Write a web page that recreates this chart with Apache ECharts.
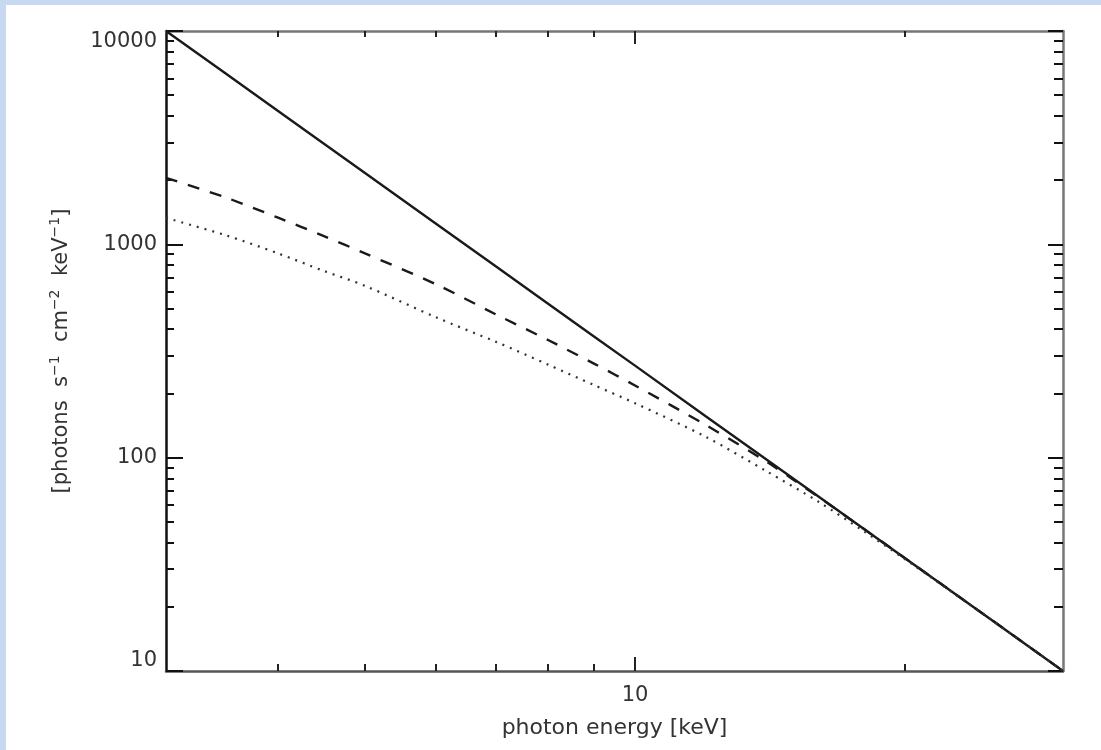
<!DOCTYPE html>
<html><head><meta charset="utf-8">
<script src="https://cdn.jsdelivr.net/npm/echarts@6/dist/echarts.min.js"></script>
<style>
html,body{margin:0;padding:0;background:#c6d9f1;overflow:hidden;}
#frame{position:absolute;left:6px;top:5px;right:0;bottom:0;background:#fff;}
#chart{position:absolute;left:0;top:0;width:1101px;height:750px;}
</style></head><body>
<div id="frame"></div>
<div id="chart"></div>
<script>
// photon energy [keV]
const energy     = [3, 3.5, 4, 4.5, 5, 6, 7, 8, 9, 10, 12, 14, 16, 18, 20, 25, 30];
// solid curve
const solidFlux  = [10000, 6297, 4219, 2963, 2160, 1250, 787, 527, 370, 270, 156, 98.4, 65.9, 46.3, 33.8, 17.3, 10];
// dashed curve
const dashedFlux = [2050, 1656, 1333, 1093, 907, 650, 469, 356, 276, 218, 142, 96, 65.6, 46.3, 33.8, 17.3, 10];
// dotted curve
const dottedFlux = [1330, 1102, 907, 750, 639, 455, 349, 273, 219, 180, 125, 86.6, 62.3, 45.1, 33.4, 17.3, 10];

const xMajorTicks = [10];
const xMinorTicks = [4, 5, 6, 7, 8, 9, 20];
const yMajorTicks = [10, 100, 1000, 10000];
const yMinorTicks = [20, 30, 40, 50, 60, 70, 80, 90, 200, 300, 400, 500, 600, 700, 800, 900, 2000, 3000, 4000, 5000, 6000, 7000, 8000, 9000];
const yMidLabels = [100, 1000];
const yTopLabel = [10000];
const yBottomLabel = [10];

const xName = 'photon energy [keV]';
const yName = '[photons  s{s|\u22121}  cm{s|\u22122}  keV{s|\u22121}]';

const FONT = 'DejaVu Sans';
const TXT = '#333';

function xAx(pos, ticks, len, showLine, showLabel, lineColor, extra) {
  return Object.assign({
    type: 'log', min: 3, max: 30, position: pos, gridIndex: 0,
    axisLine: { show: showLine, lineStyle: { color: lineColor, width: 2.5 } },
    axisTick: { show: true, inside: true, length: len, customValues: ticks, lineStyle: { color: '#222', width: 2 } },
    axisLabel: { show: showLabel, customValues: ticks, fontFamily: FONT, fontSize: 21, color: TXT, margin: 14,
      formatter: v => String(v) },
    splitLine: { show: false }, minorTick: { show: false }, minorSplitLine: { show: false }
  }, extra || {});
}
function yAx(pos, ticks, len, showLine, labels, lineColor, extra, vAlign) {
  return Object.assign({
    type: 'log', logBase: 10, min: 10, max: 10000, position: pos, gridIndex: 0,
    axisLine: { show: showLine, lineStyle: { color: lineColor, width: 2.5 } },
    axisTick: { show: ticks !== null, inside: true, length: len, customValues: ticks || [], lineStyle: { color: '#111', width: 2 } },
    axisLabel: { show: labels !== null, customValues: labels || [], fontFamily: FONT, fontSize: 21, color: TXT, margin: 9,
      verticalAlign: vAlign || 'middle', formatter: v => String(v) },
    splitLine: { show: false }, minorTick: { show: false }, minorSplitLine: { show: false }
  }, extra || {});
}

const chart = echarts.init(document.getElementById('chart'), null, { renderer: 'canvas' });
chart.setOption({
  backgroundColor: 'transparent',
  animation: false,
  grid: { left: 166, right: 38, top: 31, bottom: 79, containLabel: false, outerBoundsMode: 'none' },
  xAxis: [
    xAx('bottom', xMajorTicks, 14, true, true, '#555', {
      name: xName, nameLocation: 'middle', nameGap: 46,
      nameTextStyle: { fontFamily: FONT, fontSize: 22, color: TXT }
    }),
    xAx('bottom', xMinorTicks, 7, false, false, '#555'),
    xAx('top', xMajorTicks, 13, true, false, '#777'),
    xAx('top', xMinorTicks, 6, false, false, '#777')
  ],
  yAxis: [
    yAx('left', yMajorTicks, 17, true, yMidLabels, '#111', {
      name: yName, nameLocation: 'middle', nameGap: 90, nameRotate: 90,
      nameTextStyle: { fontFamily: FONT, fontSize: 21, color: TXT, lineHeight: 28,
        rich: { s: { fontFamily: FONT, fontSize: 14, color: TXT, verticalAlign: 'top', lineHeight: 28 } } }
    }),
    yAx('left', yMinorTicks, 8, false, null, '#111'),
    yAx('left', null, 0, false, yTopLabel, '#111', null, 'top'),
    yAx('left', null, 0, false, yBottomLabel, '#111', null, 'bottom'),
    yAx('right', yMajorTicks, 15, true, null, '#777'),
    yAx('right', yMinorTicks, 9, false, null, '#777')
  ],
  series: [
    { type: 'line', name: 'solid', xAxisIndex: 0, yAxisIndex: 0, showSymbol: false, smooth: false,
      lineStyle: { color: '#1a1a1a', width: 2.4, type: 'solid' },
      data: energy.map((e, i) => [e, solidFlux[i]]) },
    { type: 'line', name: 'dashed', xAxisIndex: 0, yAxisIndex: 0, showSymbol: false, smooth: 0.3,
      lineStyle: { color: '#1a1a1a', width: 2.4, type: [12, 11] },
      data: energy.map((e, i) => [e, dashedFlux[i]]) },
    { type: 'line', name: 'dotted', xAxisIndex: 0, yAxisIndex: 0, showSymbol: false, smooth: 0.3,
      lineStyle: { color: '#333', width: 2.2, type: [2, 6] },
      data: energy.map((e, i) => [e, dottedFlux[i]]) }
  ]
});
</script>
</body></html>
